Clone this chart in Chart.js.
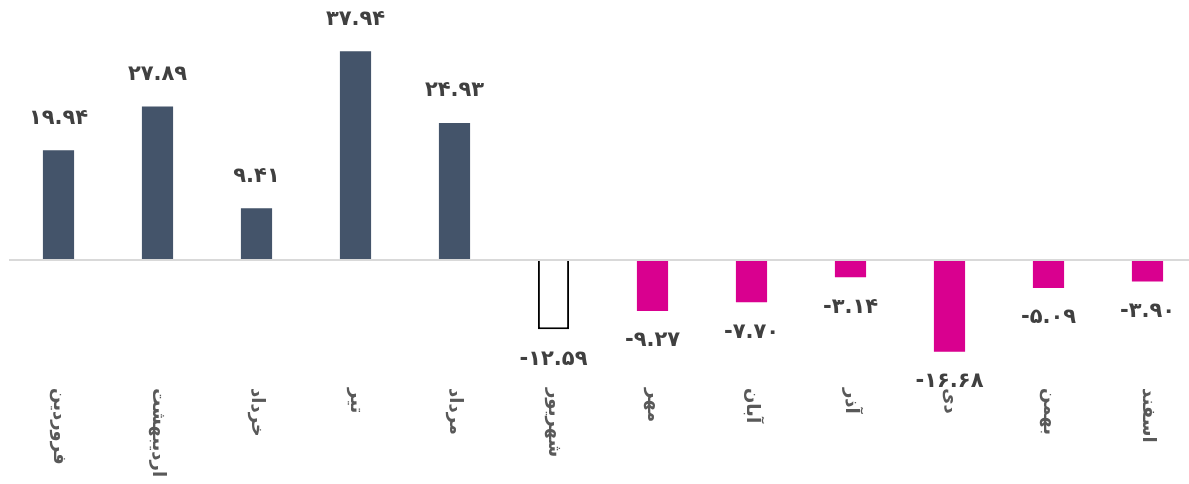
<!DOCTYPE html>
<html>
<head>
<meta charset="utf-8">
<script src="https://cdn.jsdelivr.net/npm/chart.js@4"></script>
<style>
  html, body { margin: 0; padding: 0; background: #fff; overflow: hidden; }
  #wrap { width: 1197px; height: 484px; position: relative; }
</style>
</head>
<body>
<div id="wrap"><canvas id="chart"></canvas></div>
<script>
// months, Farvardin .. Esfand
const months = ['فروردین', 'اردیبهشت', 'خرداد', 'تیر', 'مرداد', 'شهریور',
                'مهر', 'آبان', 'آذر', 'دی', 'بهمن', 'اسفند'];
const values = [19.94, 27.89, 9.41, 37.94, 24.93, -12.59,
                -9.27, -7.70, -3.14, -16.68, -5.09, -3.90];
const yTicks = [-20, 0, 40];

function toFa(v) {
  return v.toFixed(2).replace(/[0-9]/g, d => String.fromCharCode(0x06F0 + (+d)));
}

const fill = values.map((v, i) => i === 5 ? '#ffffff' : (v >= 0 ? '#44546a' : '#d9008f'));
const border = values.map((v, i) => i === 5 ? '#000000' : 'transparent');
const bw = values.map((v, i) => i === 5 ? 2 : 0);

const labelPlugin = {
  id: 'labels',
  afterDatasetsDraw(chart) {
    const ctx = chart.ctx;
    const meta = chart.getDatasetMeta(0);
    const xs = chart.scales.x;
    ctx.save();
    // value labels
    ctx.font = 'bold 21px "DejaVu Sans"';
    ctx.letterSpacing = '0.5px';
    ctx.fillStyle = '#404040';
    ctx.textAlign = 'center';
    ctx.textBaseline = 'middle';
    meta.data.forEach((bar, i) => {
      const v = values[i];
      const y = v >= 0 ? bar.y - 32 : bar.y + 30;
      ctx.fillText(toFa(v), bar.x, y);
    });
    // month labels, rotated clockwise
    ctx.letterSpacing = '0px';
    ctx.font = 'bold 18px "DejaVu Sans"';
    ctx.fillStyle = '#595959';
    ctx.textAlign = 'left';
    months.forEach((m, i) => {
      ctx.save();
      ctx.translate(xs.getPixelForValue(i), chart.chartArea.bottom + 18);
      ctx.rotate(Math.PI / 2);
      ctx.fillText(m, 0, 0);
      ctx.restore();
    });
    ctx.restore();
  }
};

new Chart(document.getElementById('chart'), {
  type: 'bar',
  data: {
    labels: months,
    datasets: [{
      data: values,
      backgroundColor: fill,
      borderColor: border,
      borderWidth: bw,
      categoryPercentage: 1,
      barPercentage: 0.315
    }]
  },
  options: {
    responsive: true,
    maintainAspectRatio: false,
    animation: false,
    layout: { padding: { left: 9, right: 0, top: 40, bottom: 114 } },
    plugins: { legend: { display: false }, tooltip: { enabled: false } },
    scales: {
      x: { display: false },
      y: {
        min: yTicks[0],
        max: yTicks[2],
        afterBuildTicks: s => { s.ticks = yTicks.map(v => ({ value: v })); },
        ticks: { display: false },
        border: { display: false },
        grid: {
          drawTicks: false,
          lineWidth: 2,
          color: c => c.tick && c.tick.value === 0 ? '#d9d9d9' : 'transparent'
        }
      }
    }
  },
  plugins: [labelPlugin]
});
</script>
</body>
</html>
